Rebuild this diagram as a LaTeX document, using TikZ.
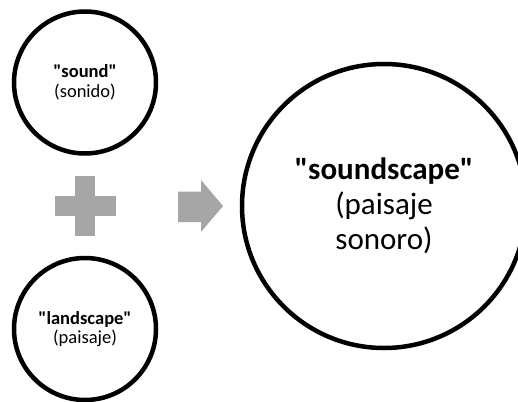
\documentclass[tikz,border=0pt]{standalone}
\usepackage{fontspec}
\newfontfamily\calibri{Carlito}
\begin{document}
\begin{tikzpicture}[x=1pt,y=-1pt,
  ring/.style={circle,draw=black,line width=4.5pt,fill=white,inner sep=0pt,align=center},
  shapegray/.style={fill=black!35,draw=none}]
\useasboundingbox (0,0) rectangle (518,401);
\clip (0,0) rectangle (518,401);
\node[ring,minimum size=142pt,font=\calibri\fontsize{18.5}{19.5}\selectfont] (sound) at (85,82.5) {\textbf{"sound"}\\(sonido)};
\node[ring,minimum size=142pt,font=\calibri\fontsize{18.5}{19.5}\selectfont] (land) at (85,329) {\textbf{"landscape"}\\(paisaje)};
\node[ring,minimum size=284pt,font=\calibri\fontsize{31}{35}\selectfont] (scape) at (384,206) {\textbf{"soundscape"}\\(paisaje\\sonoro)};
\path[shapegray] (75,176) rectangle (95,236);
\path[shapegray] (55,196) rectangle (116,216);
\coordinate (tip) at (223,206);
\path[shapegray] (178,191.5) -- (201,191.5) -- (201,180) -- (tip) -- (201,232) -- (201,222) -- (178,222) -- cycle;
\end{tikzpicture}
\end{document}
